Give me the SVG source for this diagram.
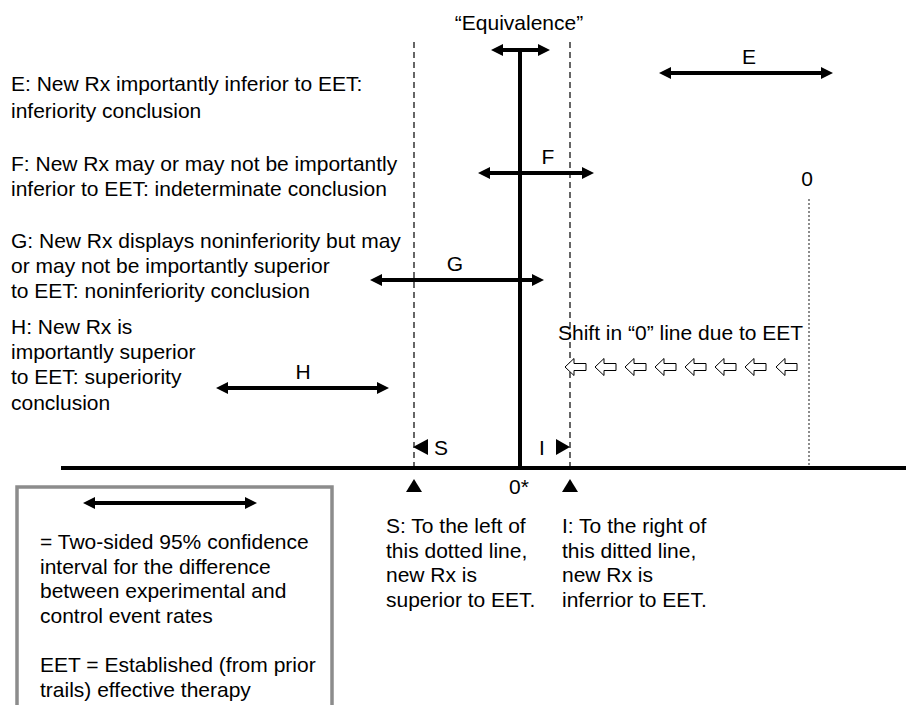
<svg xmlns="http://www.w3.org/2000/svg" width="906" height="705" viewBox="0 0 906 705">
<defs>
<marker id="ah" viewBox="0 0 12 12" markerWidth="12" markerHeight="12" refX="4" refY="6" orient="auto-start-reverse" markerUnits="userSpaceOnUse">
<path d="M0,0 L12,6 L0,12 Z" fill="#000"/>
</marker>
<path id="hollow" d="M0,0 L9,-8.5 L9,-3.5 L21,-3.5 L21,3.5 L9,3.5 L9,8.5 Z" fill="#fff" stroke="#000" stroke-width="1"/>
</defs>
<style>
text{font-family:"Liberation Sans",Arial,Helvetica,sans-serif;font-size:21px;fill:#000}
.ci{stroke:#000;stroke-width:4;marker-start:url(#ah);marker-end:url(#ah)}
.dash{stroke:#000;stroke-width:1.2;stroke-dasharray:6 4}
.mid{text-anchor:middle}
</style>
<rect width="906" height="705" fill="#fff"/>
<g id="connectors">
<line x1="61" y1="468" x2="906" y2="468" stroke="#000" stroke-width="4"/>
<line x1="520" y1="50" x2="520" y2="468" stroke="#000" stroke-width="4"/>
<line class="dash" x1="414" y1="42" x2="414" y2="468"/>
<line class="dash" x1="570" y1="42" x2="570" y2="468"/>
<line x1="809" y1="199" x2="809" y2="465" stroke="#8c8c8c" stroke-width="2" stroke-dasharray="2 2"/>
</g>
<g id="equivalence">
<text class="mid" x="519" y="30">“Equivalence”</text>
<line class="ci" x1="499" y1="50" x2="542" y2="50"/>
</g>
<g id="E">
<text class="mid" x="749" y="64">E</text>
<line class="ci" x1="667" y1="73" x2="825" y2="73"/>
</g>
<g id="F">
<text class="mid" x="548" y="164">F</text>
<line class="ci" x1="486" y1="173" x2="586" y2="173"/>
</g>
<g id="G">
<text class="mid" x="455" y="271">G</text>
<line class="ci" x1="378" y1="280" x2="536" y2="280"/>
</g>
<g id="H">
<text class="mid" x="303" y="379">H</text>
<line class="ci" x1="224" y1="388" x2="381" y2="388"/>
</g>
<g id="zero">
<text class="mid" x="807" y="186">0</text>
</g>
<g id="shift">
<text x="558" y="340">Shift in “0” line due to EET</text>
<use href="#hollow" x="565" y="367"/>
<use href="#hollow" x="595" y="367"/>
<use href="#hollow" x="625" y="367"/>
<use href="#hollow" x="655" y="367"/>
<use href="#hollow" x="685" y="367"/>
<use href="#hollow" x="715" y="367"/>
<use href="#hollow" x="745" y="367"/>
<use href="#hollow" x="776" y="367"/>
</g>
<g id="desc-E">
<text x="11" y="91">E: New Rx importantly inferior to EET:</text>
<text x="11" y="118">inferiority conclusion</text>
</g>
<g id="desc-F">
<text x="11" y="171">F: New Rx may or may not be importantly</text>
<text x="11" y="196">inferior to EET: indeterminate conclusion</text>
</g>
<g id="desc-G">
<text x="11" y="248">G: New Rx displays noninferiority but may</text>
<text x="11" y="273">or may not be importantly superior</text>
<text x="11" y="298">to EET: noninferiority conclusion</text>
</g>
<g id="desc-H">
<text x="11" y="334">H: New Rx is</text>
<text x="11" y="359">importantly superior</text>
<text x="11" y="384">to EET: superiority</text>
<text x="11" y="410">conclusion</text>
</g>
<g id="S-marker">
<path d="M413,447 L428,439 L428,455 Z" fill="#000"/>
<text x="434" y="455">S</text>
<path d="M406,492 L414,479 L422,492 Z" fill="#000"/>
</g>
<g id="I-marker">
<text x="539" y="455">I</text>
<path d="M570,447 L556,439 L556,455 Z" fill="#000"/>
<path d="M562,492 L570,479 L578,492 Z" fill="#000"/>
</g>
<g id="zero-star">
<text x="509" y="494">0*</text>
</g>
<g id="S-text">
<text x="386" y="533">S: To the left of</text>
<text x="386" y="557.5">this dotted line,</text>
<text x="386" y="582">new Rx is</text>
<text x="386" y="606.5">superior to EET.</text>
</g>
<g id="I-text">
<text x="562" y="533">I: To the right of</text>
<text x="562" y="557.5">this ditted line,</text>
<text x="562" y="582">new Rx is</text>
<text x="562" y="606.5">inferrior to EET.</text>
</g>
<g id="legend">
<rect x="17" y="487" width="315" height="240" fill="none" stroke="#8c8c8c" stroke-width="3.5"/>
<line class="ci" x1="91" y1="503" x2="249" y2="503"/>
<text x="40" y="549">= Two-sided 95% confidence</text>
<text x="40" y="573.5">interval for the difference</text>
<text x="40" y="598">between experimental and</text>
<text x="40" y="622.5">control event rates</text>
<text x="40" y="672">EET = Established (from prior</text>
<text x="40" y="696.5">trails) effective therapy</text>
</g>
</svg>
